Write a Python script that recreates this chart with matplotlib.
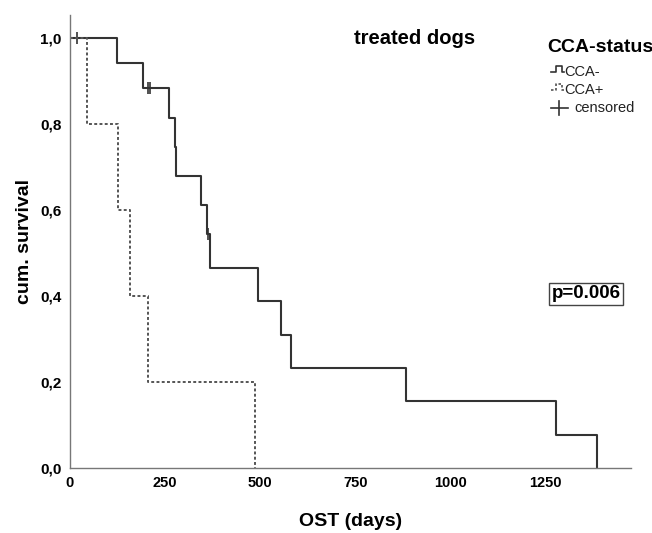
import numpy as np
import matplotlib
matplotlib.use("Agg")
import matplotlib.pyplot as plt
from matplotlib.lines import Line2D

plt.rcParams['font.family'] = ['Liberation Sans', 'DejaVu Sans']

# CCA- : survival times (days) and event flag (1 = died, 0 = censored)
neg_times = [18, 124, 192, 205, 210, 261, 277, 279, 345, 360, 363, 367, 494, 554, 580, 884, 1278, 1386]
neg_event = [0, 1, 1, 0, 0, 1, 1, 1, 1, 1, 0, 1, 1, 1, 1, 1, 1, 1]
# CCA+
pos_times = [46, 126, 158, 205, 487]
pos_event = [1, 1, 1, 1, 1]

x_ticks = [0, 250, 500, 750, 1000, 1250]
y_ticks = [0.0, 0.2, 0.4, 0.6, 0.8, 1.0]
y_labels = ['0,0', '0,2', '0,4', '0,6', '0,8', '1,0']


def kaplan_meier(times, events):
    times = np.array(times, dtype=float)
    events = np.array(events)
    order = np.argsort(times)
    times, events = times[order], events[order]
    n = len(times)
    s = 1.0
    xs, ys = [0.0], [1.0]
    cens_x, cens_y = [], []
    for i, (t, e) in enumerate(zip(times, events)):
        at_risk = n - i
        if e == 1:
            s *= (1 - 1.0 / at_risk)
            xs.append(t)
            ys.append(s)
        else:
            cens_x.append(t)
            cens_y.append(s)
    return xs, ys, cens_x, cens_y


W, H = 652, 533
fig = plt.figure(figsize=(W / 100, H / 100), dpi=100)
ax = fig.add_axes([70 / W, 1 - 468 / H, (631 - 70) / W, (468 - 15) / H])

col = '#333333'
xs, ys, cx, cy = kaplan_meier(neg_times, neg_event)
ax.step(xs, ys, where='post', color=col, lw=1.5)
ax.plot(cx, cy, linestyle='none', marker='|', ms=9, mew=1.2, color=col)

xs, ys, cx, cy = kaplan_meier(pos_times, pos_event)
ax.step(xs, ys, where='post', color='#555555', lw=1.4, linestyle=(0, (1.5, 1.2)))

ax.set_xlim(0, 1475)
ax.set_ylim(0, 1.053)
ax.set_xticks(x_ticks)
ax.set_xticklabels([str(v) for v in x_ticks], fontweight='bold', fontsize=10.5)
ax.set_yticks(y_ticks)
ax.set_yticklabels(y_labels, fontweight='bold', fontsize=11)
ax.tick_params(length=0, pad=6)
for s in ['top', 'right']:
    ax.spines[s].set_visible(False)
for s in ['left', 'bottom']:
    ax.spines[s].set_color('#777777')
    ax.spines[s].set_linewidth(1.0)

ax.set_xlabel('OST (days)', fontweight='bold', fontsize=14, labelpad=16)
ax.set_ylabel('cum. survival', fontweight='bold', fontsize=14, labelpad=5)

fig.text(415 / W, 1 - 38 / H, 'treated dogs', fontweight='bold', fontsize=14.5,
         ha='center', va='center')
fig.text(600 / W, 1 - 48 / H, 'CCA-status', fontweight='bold', fontsize=14,
         ha='center', va='center')

# legend entries
def px(x, y):
    return x / W, 1 - y / H

lx = [551, 556, 556, 562, 562, 564]
ly1 = [72, 72, 66, 66, 72, 72]
fig.add_artist(Line2D(*zip(*[px(a, b) for a, b in zip(lx, ly1)]), color=col, lw=1.2))
ly2 = [90, 90, 84, 84, 90, 90]
fig.add_artist(Line2D(*zip(*[px(a, b) for a, b in zip(lx, ly2)]), color='#555555', lw=1.2,
                      linestyle=(0, (1.5, 1.2))))
fig.add_artist(Line2D(*zip(px(551, 108), px(568, 108)), color=col, lw=1.2))
fig.add_artist(Line2D(*zip(px(559, 101), px(559, 115)), color=col, lw=1.2))
fig.text(564 / W, 1 - 72 / H, 'CCA-', fontsize=10.5, va='center', color='#222222')
fig.text(564 / W, 1 - 90 / H, 'CCA+', fontsize=10.5, va='center', color='#222222')
fig.text(574 / W, 1 - 108 / H, 'censored', fontsize=10.5, va='center', color='#222222')

fig.text(586 / W, 1 - 294 / H, 'p=0.006', fontweight='bold', fontsize=13.5,
         ha='center', va='center',
         bbox=dict(boxstyle='square,pad=0.12', fc='white', ec='#444444', lw=1.0))

fig.savefig('out.png', dpi=100)
